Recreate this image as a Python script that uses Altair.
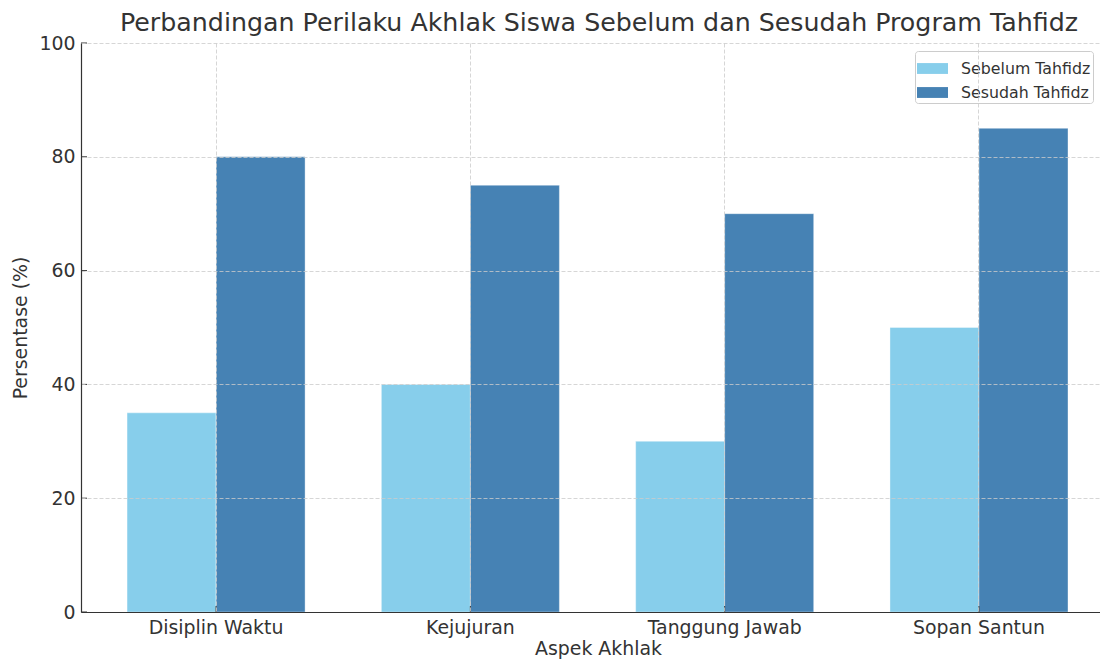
import altair as alt
import pandas as pd

categories = ["Disiplin Waktu", "Kejujuran", "Tanggung Jawab", "Sopan Santun"]
series = ["Sebelum Tahfidz", "Sesudah Tahfidz"]
sebelum = [35, 40, 30, 50]
sesudah = [80, 75, 70, 85]
y_ticks = [0, 20, 40, 60, 80, 100]
colors = ["#87CEEB", "#4682B4"]

rows = []
for c, a, b in zip(categories, sebelum, sesudah):
    rows.append({"Aspek": c, "Kelompok": series[0], "Nilai": a})
    rows.append({"Aspek": c, "Kelompok": series[1], "Nilai": b})
df = pd.DataFrame(rows)
ytick_df = pd.DataFrame({"Nilai": y_ticks})
xtick_df = pd.DataFrame({"Aspek": categories})

W, H = 1019, 569
FONT = "DejaVu Sans"
TXT = "#333333"

x_scale = alt.Scale(domain=categories, paddingInner=0.3, paddingOuter=0.1535, align=0.59)
y_scale = alt.Scale(domain=[0, 100], nice=False)

x_axis = alt.Axis(title="Aspek Akhlak", bandPosition=0.5, grid=True, ticks=False,
                  labelAngle=0, labelPadding=6, titlePadding=3, titleX=517, zindex=1)
y_axis = alt.Axis(title="Persentase (%)", values=y_ticks, grid=True, ticks=False,
                  labelPadding=6, titlePadding=8, zindex=1)

bars = alt.Chart(df).mark_bar(stroke="white", strokeWidth=0.6, strokeOpacity=0.6).encode(
    x=alt.X("Aspek:N", scale=x_scale, sort=categories, axis=x_axis),
    xOffset=alt.XOffset("Kelompok:N", sort=series,
                        scale=alt.Scale(domain=series, paddingInner=0, paddingOuter=0)),
    y=alt.Y("Nilai:Q", scale=y_scale, axis=y_axis),
    color=alt.Color("Kelompok:N", scale=alt.Scale(domain=series, range=colors),
                    legend=alt.Legend(title=None, orient="none", legendX=834, legendY=8,
                                      symbolType="M-1,-0.35L1,-0.35L1,0.35L-1,0.35Z",
                                      symbolSize=961, symbolStrokeWidth=0,
                                      labelFontSize=15.8, labelFont=FONT, labelColor=TXT,
                                      strokeColor="#cccccc", fillColor="white",
                                      cornerRadius=3, padding=2, labelOffset=13,
                                      rowPadding=0)),
)

yt = alt.Chart(ytick_df).mark_rule(color=TXT, strokeWidth=1).encode(
    y=alt.Y("Nilai:Q", scale=y_scale, axis=y_axis),
    x=alt.value(0), x2=alt.value(6),
)
xt = alt.Chart(xtick_df).mark_rule(color=TXT, strokeWidth=1).encode(
    x=alt.X("Aspek:N", scale=x_scale, sort=categories, axis=x_axis),
    y=alt.value(H), y2=alt.value(H - 6),
)

chart = alt.layer(bars, yt, xt).properties(
    width=W, height=H,
    title=alt.TitleParams("Perbandingan Perilaku Akhlak Siswa Sebelum dan Sesudah Program Tahfidz",
                          fontSize=25.3, font=FONT, color=TXT, fontWeight="normal",
                          anchor="middle", offset=4, dx=8.5, dy=6),
    autosize=alt.AutoSizeParams(type="none"),
    padding={"left": 73, "top": 35, "right": 0, "bottom": 49},
).configure_view(strokeWidth=0).configure_axis(
    labelFont=FONT, titleFont=FONT, labelFontSize=18.9, titleFontSize=18.9,
    labelColor=TXT, titleColor=TXT, titleFontWeight="normal",
    domainColor=TXT, domainWidth=1.2,
    gridColor="#cccccc", gridDash=[4, 2], gridWidth=0.8,
)

chart.save("out.html", embed_options={"renderer": "svg", "actions": False})
